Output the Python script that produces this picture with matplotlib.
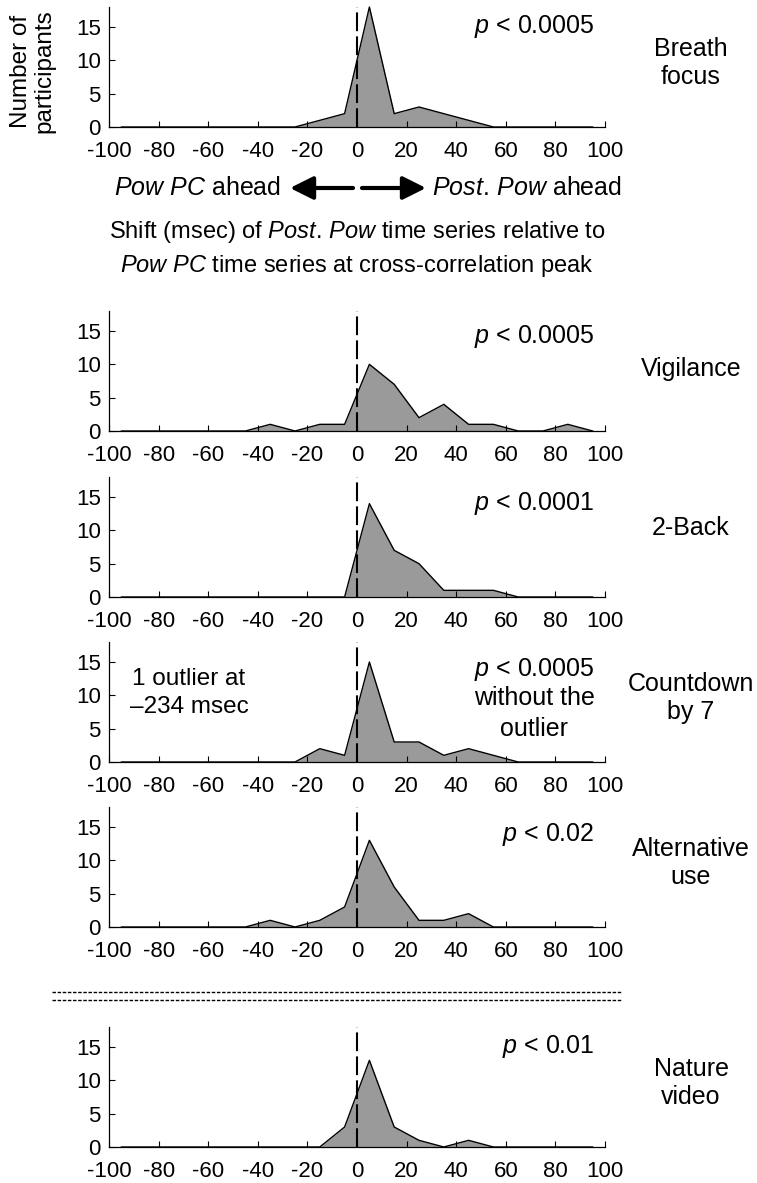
import matplotlib
matplotlib.use("Agg")
import matplotlib.pyplot as plt
from matplotlib.lines import Line2D

plt.rcParams["font.family"] = ["Liberation Sans", "DejaVu Sans"]
plt.rcParams["mathtext.fontset"] = "custom"
plt.rcParams["mathtext.rm"] = "Liberation Sans"
plt.rcParams["mathtext.it"] = "Liberation Sans:italic"
plt.rcParams["axes.unicode_minus"] = False

# bin centres (msec) and counts of participants per bin
centers = [-95, -85, -75, -65, -55, -45, -35, -25, -15, -5,
           5, 15, 25, 35, 45, 55, 65, 75, 85, 95]
breath = [0, 0, 0, 0, 0, 0, 0, 0, 1, 2, 18, 2, 3, 2, 1, 0, 0, 0, 0, 0]
vigilance = [0, 0, 0, 0, 0, 0, 1, 0, 1, 1, 10, 7, 2, 4, 1, 1, 0, 0, 1, 0]
two_back = [0, 0, 0, 0, 0, 0, 0, 0, 0, 0, 14, 7, 5, 1, 1, 1, 0, 0, 0, 0]
countdown = [0, 0, 0, 0, 0, 0, 0, 0, 2, 1, 15, 3, 3, 1, 2, 1, 0, 0, 0, 0]
alt_use = [0, 0, 0, 0, 0, 0, 1, 0, 1, 3, 13, 6, 1, 1, 2, 0, 0, 0, 0, 0]
nature = [0, 0, 0, 0, 0, 0, 0, 0, 0, 3, 13, 3, 1, 0, 1, 0, 0, 0, 0, 0]

conditions = ["Breath\nfocus", "Vigilance", "2-Back", "Countdown\nby 7",
              "Alternative\nuse", "Nature\nvideo"]
p_texts = ["$p$ < 0.0005", "$p$ < 0.0005", "$p$ < 0.0001", "$p$ < 0.0005",
           "$p$ < 0.02", "$p$ < 0.01"]
xticks = [-100, -80, -60, -40, -20, 0, 20, 40, 60, 80, 100]
yticks = [0, 5, 10, 15]

W, H = 757, 1183
fig = plt.figure(figsize=(W / 100, H / 100), dpi=100)


def fx(px):
    return px / W


def fy(py):
    return 1 - py / H


# layout in pixels: baseline of each panel, y of p-text and side label
baselines = [127, 431, 597, 762, 927, 1147]
p_y = [27, 337, 503, 669, 835, 1047]
label_y = [63, 369, 528, 698, 863, 1083]
series = [breath, vigilance, two_back, countdown, alt_use, nature]

for i, vals in enumerate(series):
    ax = fig.add_axes([fx(109), fy(baselines[i]), 496 / W, 120 / H])
    ax.fill_between(centers, vals, color="#9a9a9a", lw=0, clip_on=False)
    ax.plot(centers, vals, color="k", lw=1, clip_on=False)
    ax.axvline(0, color="k", lw=1.5, dashes=(9, 2.5))
    ax.set_xlim(-100, 100)
    ax.set_ylim(0, 18)
    ax.set_xticks(xticks)
    ax.set_yticks(yticks)
    for s in ["top", "right"]:
        ax.spines[s].set_visible(False)
    ax.spines["left"].set_linewidth(0.9)
    ax.spines["bottom"].set_linewidth(0.9)
    ax.tick_params(direction="in", length=4, width=0.8, labelsize=16)
    ax.tick_params(axis="x", pad=10)
    ax.tick_params(axis="y", pad=6)

    fig.text(fx(691), fy(label_y[i]), conditions[i], ha="center", va="center",
             fontsize=18, linespacing=1.2)
    if i != 3:
        fig.text(fx(594), fy(p_y[i]), p_texts[i], ha="right", va="center",
                 fontsize=18)

# countdown panel annotations
for txt, y in zip([p_texts[3], "without the", "outlier"], [669, 698, 729]):
    fig.text(fx(534), fy(y), txt, ha="center", va="center", fontsize=18)
for txt, y in zip(["1 outlier at", "\u2013234 msec"], [679, 707]):
    fig.text(fx(189), fy(y), txt, ha="center", va="center", fontsize=17.5)

# y label
fig.text(fx(33), fy(71), "Number of\nparticipants", rotation=90, ha="center",
         va="center", fontsize=17.5, linespacing=1.1)

# direction arrows under first panel
fig.text(fx(281), fy(188), "$\\mathit{Pow\\ PC}$ ahead", ha="right",
         va="center", fontsize=18)
fig.text(fx(432), fy(188), "$\\mathit{Post.\\!\\ Pow}$ ahead", ha="left",
         va="center", fontsize=18)
arrow = dict(arrowstyle="-|>,head_length=0.7,head_width=0.35", lw=3,
             color="k", shrinkA=0, shrinkB=0, mutation_scale=20)
fig.axes[0].annotate("", xy=(fx(290), fy(188)), xytext=(fx(353), fy(188)),
                     xycoords="figure fraction", arrowprops=arrow)
fig.axes[0].annotate("", xy=(fx(426), fy(188)), xytext=(fx(362), fy(188)),
                     xycoords="figure fraction", arrowprops=arrow)

fig.text(fx(357), fy(249),
         "Shift (msec) of $\\mathit{Post.\\!\\ Pow}$ time series relative to\n"
         "$\\mathit{Pow\\ PC}$ time series at cross-correlation peak",
         ha="center", va="center", fontsize=17, linespacing=1.4)

# separator between task panels and the video panel
for y in [992, 1000]:
    fig.add_artist(Line2D([fx(52), fx(622)], [fy(y), fy(y)],
                          transform=fig.transFigure, color="k", lw=1,
                          dashes=(2.5, 1.2)))

fig.savefig("out.png", dpi=100)
